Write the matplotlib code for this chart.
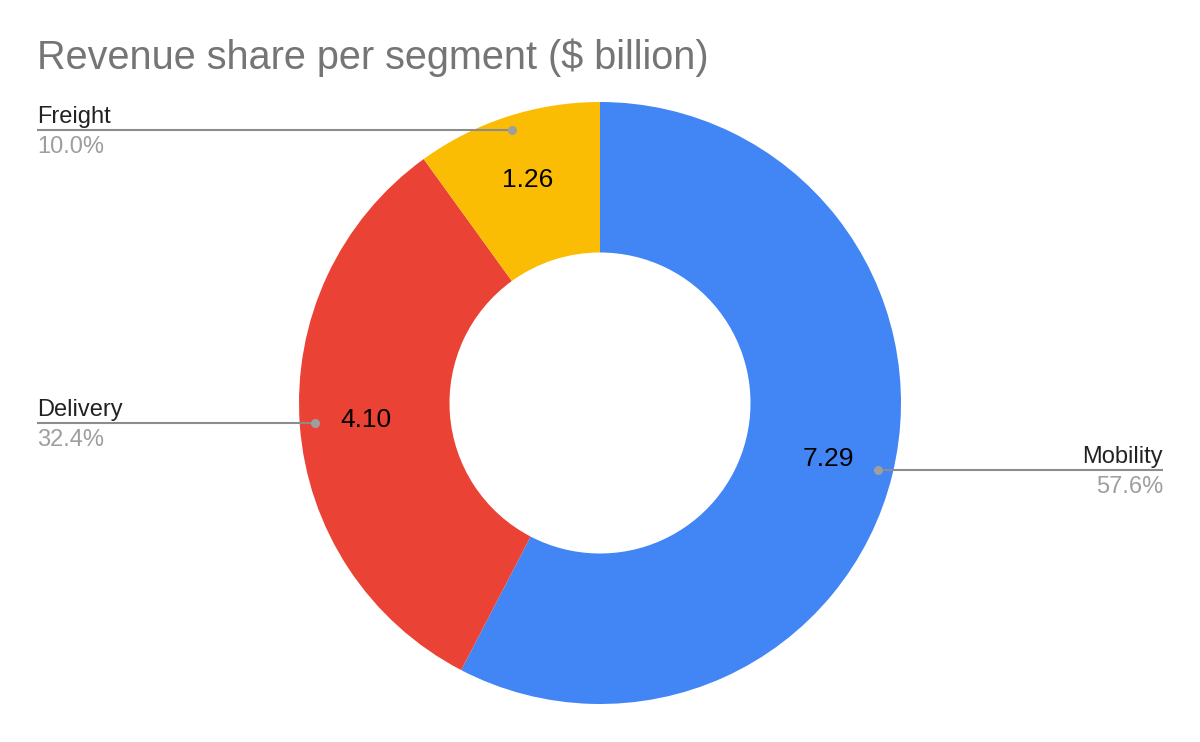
import matplotlib.pyplot as plt
import numpy as np

# Data
segments = ['Mobility', 'Delivery', 'Freight']
revenue = [7.29, 4.10, 1.26]
colors = ['#4285F4', '#EA4335', '#FBBC04']

plt.rcParams['font.family'] = ['Liberation Sans', 'DejaVu Sans']

W, H = 1200, 742
fig = plt.figure(figsize=(W / 100, H / 100), dpi=100)

# donut centred at (600, 403) px, outer radius 301 px
cx, cy, R = 600, 403, 301
ax = fig.add_axes([(cx - R) / W, (H - cy - R) / H, 2 * R / W, 2 * R / H])
wedges, _ = ax.pie(revenue, colors=colors, startangle=90, counterclock=False,
                   radius=1, wedgeprops=dict(width=0.5, linewidth=0))
ax.set_xlim(-1, 1)
ax.set_ylim(-1, 1)
ax.set_aspect('equal')
ax.axis('off')

# overlay in pixel coordinates for leader lines / labels
ov = fig.add_axes([0, 0, 1, 1])
ov.set_xlim(0, W)
ov.set_ylim(H, 0)
ov.axis('off')

fig.text(37 / W, 1 - 69 / H, 'Revenue share per segment ($ billion)',
         fontsize=28.5, color='#757575', va='baseline', ha='left')

total = sum(revenue)
for w, name, val in zip(wedges, segments, revenue):
    mid = np.deg2rad((w.theta1 + w.theta2) / 2)
    # value label inside the ring
    ax.text(0.78 * np.cos(mid), 0.78 * np.sin(mid), f'{val:.2f}',
            ha='center', va='center', fontsize=19, color='black')
    # dot near the outer edge
    px = cx + 0.95 * R * np.cos(mid)
    py = cy - 0.95 * R * np.sin(mid) - 1
    if np.cos(mid) >= 0:
        x_end, ha = 1163, 'right'
    else:
        x_end, ha = 37, 'left'
    ov.plot([px, x_end], [py, py], color='#8c8c8c', lw=1.5, solid_capstyle='butt')
    ov.plot(px, py, 'o', color='#9e9e9e', ms=6.5, mec='none')
    ov.text(x_end, py - 7, name, ha=ha, va='baseline', fontsize=17, color='#222222')
    ov.text(x_end, py + 23, f'{val / total * 100:.1f}%', ha=ha, va='baseline',
            fontsize=17, color='#9e9e9e')

fig.savefig('out.png', dpi=100, facecolor='white')
